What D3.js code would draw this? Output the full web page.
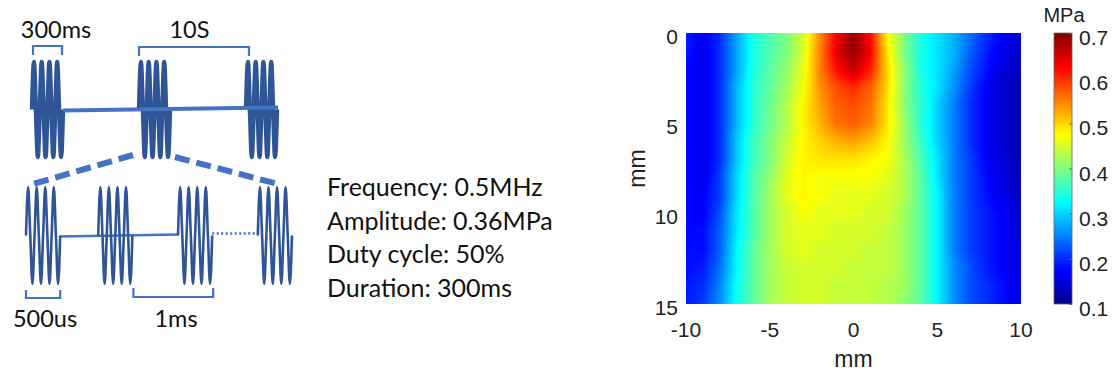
<!DOCTYPE html>
<html>
<head>
<meta charset="utf-8">
<script src="https://cdn.jsdelivr.net/npm/d3@7"></script>
<style>
  body { margin: 0; background: #fff; }
  svg { display: block; }
</style>
</head>
<body>
<div id="chart"></div>
<script>
// ---- stimulation scheme ----
const trainStarts = [0, 10, 20];           // s, a 300 ms burst every 10 s
const pulseStarts = [0, 0.95, 2.0, 3.05];  // ms, pulses within one burst (as sketched)
const burstShape = [0, 1, 0, -1, 0, 1, 0, -1, 0, 1, 0, -1, 0, 1, 0, -1, 0];
const paramLines = ['Frequency: 0.5MHz', 'Amplitude: 0.36MPa', 'Duty cycle: 50%', 'Duration: 300ms'];

// ---- pressure field (MPa), rows = depth 0..15 mm, cols = lateral -10..10 mm ----
const xGrid = [-10, -9, -8, -7, -6, -5, -4, -3, -2, -1, 0, 1, 2, 3, 4, 5, 6, 7, 8, 9, 10];
const yGrid = [0, 1, 2, 3, 4, 5, 6, 7, 8, 9, 10, 11, 12, 13, 14, 15];
const pressure = [
  [.19, .17, .20, .27, .34, .37, .40, .45, .54, .63, .69, .62, .48, .40, .34, .31, .28, .24, .20, .17, .15],
  [.19, .16, .20, .27, .34, .37, .40, .45, .55, .64, .69, .63, .49, .40, .34, .31, .28, .23, .19, .16, .14],
  [.18, .16, .20, .27, .34, .38, .41, .46, .55, .62, .66, .61, .50, .41, .34, .31, .27, .22, .18, .15, .13],
  [.18, .16, .20, .28, .35, .38, .42, .47, .54, .58, .60, .57, .50, .41, .35, .31, .26, .21, .17, .14, .12],
  [.18, .16, .20, .28, .35, .39, .43, .48, .53, .57, .58, .56, .49, .41, .35, .30, .25, .20, .17, .14, .12],
  [.18, .16, .20, .28, .35, .39, .43, .48, .52, .56, .57, .55, .49, .42, .35, .30, .25, .20, .17, .14, .12],
  [.18, .16, .20, .29, .36, .40, .44, .48, .50, .52, .53, .51, .48, .42, .36, .30, .25, .20, .17, .14, .12],
  [.18, .16, .20, .29, .36, .40, .45, .48, .49, .49, .49, .48, .47, .43, .37, .31, .25, .21, .17, .15, .12],
  [.18, .16, .21, .30, .37, .41, .46, .48, .47, .47, .47, .47, .46, .43, .38, .31, .25, .21, .18, .15, .13],
  [.18, .17, .21, .30, .37, .42, .46, .48, .47, .46, .46, .46, .45, .43, .38, .32, .25, .21, .18, .16, .13],
  [.18, .17, .22, .31, .37, .42, .45, .47, .46, .46, .46, .45, .45, .42, .38, .32, .25, .21, .19, .17, .14],
  [.18, .18, .23, .31, .37, .42, .45, .46, .46, .45, .45, .45, .44, .42, .38, .32, .25, .21, .19, .17, .14],
  [.18, .18, .23, .32, .38, .42, .45, .46, .45, .45, .45, .44, .44, .42, .38, .32, .25, .21, .19, .17, .15],
  [.18, .19, .24, .32, .38, .42, .44, .45, .45, .45, .44, .44, .44, .42, .38, .32, .26, .22, .19, .17, .15],
  [.19, .20, .25, .33, .38, .42, .44, .45, .45, .44, .44, .44, .43, .42, .38, .32, .26, .22, .20, .18, .15],
  [.19, .21, .26, .33, .38, .42, .44, .45, .45, .44, .44, .44, .43, .41, .38, .32, .26, .22, .20, .18, .16]
];
const xTicks = [-10, -5, 0, 5, 10];
const yTicks = [0, 5, 10, 15];
const cbTicks = [0.1, 0.2, 0.3, 0.4, 0.5, 0.6, 0.7];

const width = 1117;
const height = 377;
const dark = '#2f5597';
const light = '#4472c4';

const svg = d3.select('#chart').append('svg')
  .attr('width', width)
  .attr('height', height)
  .style('background', '#fff');

// ================= left: stimulation sketch =================
const wave = (xs, ys, x0, w) => d3.line()
  .x((d, i) => x0 + i / (burstShape.length - 1) * w)
  .y(d => ys(d))
  .curve(d3.curveMonotoneX)(burstShape);

const bracket = (g, x1, x2, yBar, yLeg) => g.append('path')
  .attr('d', `M${x1},${yLeg}V${yBar}H${x2}V${yLeg}`)
  .attr('fill', 'none')
  .attr('stroke', light)
  .attr('stroke-width', 2.2);

const sketch = svg.append('g');
const labelFont = { family: 'Lato, "Open Sans", sans-serif', size: 23.5 };

// top row: bursts
const xTop = d3.scaleLinear().domain([0, 20]).range([32, 246]);
const yTop = d3.scaleLinear().domain([-1, 1]).range([157, 62]);
const burstW = 31; // drawn width of a 300 ms burst (not to scale)

sketch.selectAll('.burst').data(trainStarts).enter().append('path')
  .attr('class', 'burst')
  .attr('d', d => wave(xTop, yTop, xTop(d), burstW))
  .attr('fill', 'none')
  .attr('stroke', dark)
  .attr('stroke-width', 4.4);

sketch.append('line')
  .attr('x1', xTop(trainStarts[0]) + burstW).attr('y1', yTop(0) + 1)
  .attr('x2', xTop(trainStarts[2]) + burstW + 1).attr('y2', yTop(0) - 2)
  .attr('stroke', light)
  .attr('stroke-width', 4);

bracket(sketch, xTop(0) + 1, xTop(0) + burstW - 1, 46, 55);
bracket(sketch, xTop(10), xTop(20) + 3, 47, 56);

sketch.append('text').attr('x', 56).attr('y', 38).attr('text-anchor', 'middle')
  .style('font-family', labelFont.family).style('font-size', labelFont.size + 'px').attr('fill', '#111')
  .text('300ms');
sketch.append('text').attr('x', (xTop(10) + xTop(20)) / 2 - 3).attr('y', 38).attr('text-anchor', 'middle')
  .style('font-family', labelFont.family).style('font-size', labelFont.size + 'px').attr('fill', '#111')
  .text('10S');

// bottom row: pulses
const xBot = d3.scaleLinear().domain([0, 3.5]).range([26, 292]);
const yBot = d3.scaleLinear().domain([-1, 1]).range([284, 187]);
const pulseW = xBot(0.45) - xBot(0);

// zoom-in dashes
sketch.append('line')
  .attr('x1', xTop(10) - 6).attr('y1', 155).attr('x2', xBot(0) + 7).attr('y2', 184)
  .attr('stroke', light).attr('stroke-width', 6).attr('stroke-dasharray', '15,7');
sketch.append('line')
  .attr('x1', xTop(10) + burstW + 5).attr('y1', 157).attr('x2', xBot(pulseStarts[3]) + 20).attr('y2', 184)
  .attr('stroke', light).attr('stroke-width', 6).attr('stroke-dasharray', '15,7');

sketch.append('line')
  .attr('x1', xBot(pulseStarts[0]) + pulseW).attr('y1', yBot(0) + 1)
  .attr('x2', xBot(pulseStarts[2])).attr('y2', yBot(0) - 1)
  .attr('stroke', light).attr('stroke-width', 2.5);
sketch.append('line')
  .attr('x1', xBot(pulseStarts[2]) + pulseW).attr('y1', yBot(0) - 2)
  .attr('x2', xBot(pulseStarts[3])).attr('y2', yBot(0) - 2)
  .attr('stroke', light).attr('stroke-width', 2.5).attr('stroke-dasharray', '2,2.5');

sketch.selectAll('.pulse').data(pulseStarts).enter().append('path')
  .attr('class', 'pulse')
  .attr('d', d => wave(xBot, yBot, xBot(d), pulseW))
  .attr('fill', 'none')
  .attr('stroke', dark)
  .attr('stroke-width', 2.6);

bracket(sketch, xBot(0), xBot(0.45), 298, 290);
bracket(sketch, xBot(pulseStarts[1]) + pulseW + 1, xBot(pulseStarts[2]) + pulseW + 1, 297, 288);

sketch.append('text').attr('x', 45).attr('y', 327).attr('text-anchor', 'middle')
  .style('font-family', labelFont.family).style('font-size', labelFont.size + 'px').attr('fill', '#111')
  .text('500us');
sketch.append('text').attr('x', 176).attr('y', 327).attr('text-anchor', 'middle')
  .style('font-family', labelFont.family).style('font-size', labelFont.size + 'px').attr('fill', '#111')
  .text('1ms');

// parameter text
svg.append('g').selectAll('text').data(paramLines).enter().append('text')
  .attr('x', 327)
  .attr('y', (d, i) => 196 + i * 33.7)
  .style('font-family', labelFont.family)
  .style('font-size', '25px')
  .attr('fill', '#111')
  .text(d => d);

// ================= right: pressure map =================
const x = d3.scaleLinear().domain([-10, 10]).range([686, 1021]);
const y = d3.scaleLinear().domain([0, 15]).range([33, 304]);

const jetStops = [0, 0.125, 0.375, 0.625, 0.875, 1];
const jetColors = ['#00008f', '#0000ff', '#00ffff', '#ffff00', '#ff0000', '#800000'];
const cmin = 0.1, cmax = 0.7;
const color = d3.scaleLinear()
  .domain(jetStops.map(t => cmin + t * (cmax - cmin)))
  .range(jetColors)
  .clamp(true);

function sample(gx, gy) {
  const i = Math.max(0, Math.min(xGrid.length - 2, d3.bisectRight(xGrid, gx) - 1));
  const j = Math.max(0, Math.min(yGrid.length - 2, d3.bisectRight(yGrid, gy) - 1));
  const tx = Math.max(0, Math.min(1, (gx - xGrid[i]) / (xGrid[i + 1] - xGrid[i])));
  const ty = Math.max(0, Math.min(1, (gy - yGrid[j]) / (yGrid[j + 1] - yGrid[j])));
  const top = pressure[j][i] * (1 - tx) + pressure[j][i + 1] * tx;
  const bot = pressure[j + 1][i] * (1 - tx) + pressure[j + 1][i + 1] * tx;
  return top * (1 - ty) + bot * ty;
}

const pw = Math.round(x(10) - x(-10));
const ph = Math.round(y(15) - y(0));
const canvas = document.createElement('canvas');
canvas.width = pw;
canvas.height = ph;
const ctx = canvas.getContext('2d');
const img = ctx.createImageData(pw, ph);
for (let py = 0; py < ph; py++) {
  const gy = y.invert(y(0) + py + 0.5);
  for (let px = 0; px < pw; px++) {
    const gx = x.invert(x(-10) + px + 0.5);
    const c = d3.rgb(color(sample(gx, gy)));
    const k = (py * pw + px) * 4;
    img.data[k] = c.r; img.data[k + 1] = c.g; img.data[k + 2] = c.b; img.data[k + 3] = 255;
  }
}
ctx.putImageData(img, 0, 0);

svg.append('image')
  .attr('x', x(-10)).attr('y', y(0))
  .attr('width', pw).attr('height', ph)
  .attr('preserveAspectRatio', 'none')
  .attr('href', canvas.toDataURL());

const axisFont = 'Arial, "Liberation Sans", Helvetica, sans-serif';
const tickColor = '#222';

svg.append('g').selectAll('text').data(xTicks).enter().append('text')
  .attr('x', d => x(d)).attr('y', 337)
  .attr('text-anchor', 'middle')
  .style('font-family', axisFont).style('font-size', '21px').attr('fill', tickColor)
  .text(d => d);

svg.append('g').selectAll('text').data(yTicks).enter().append('text')
  .attr('x', 678).attr('y', d => y(d)).attr('dy', '0.5em')
  .attr('text-anchor', 'end')
  .style('font-family', axisFont).style('font-size', '21px').attr('fill', tickColor)
  .text(d => d);

svg.append('text')
  .attr('x', (x(-10) + x(10)) / 2).attr('y', 367)
  .attr('text-anchor', 'middle')
  .style('font-family', axisFont).style('font-size', '23px').attr('fill', tickColor)
  .text('mm');

svg.append('text')
  .attr('transform', `translate(645,${(y(0) + y(15)) / 2}) rotate(-90)`)
  .attr('text-anchor', 'middle')
  .style('font-family', axisFont).style('font-size', '23px').attr('fill', tickColor)
  .text('mm');

// colorbar
const cb = { x: 1054, w: 18 };
const cy = d3.scaleLinear().domain([cmin, cmax]).range([y(15), y(0)]);

const grad = svg.append('defs').append('linearGradient')
  .attr('id', 'jet')
  .attr('x1', 0).attr('y1', 1).attr('x2', 0).attr('y2', 0);
grad.selectAll('stop').data(jetStops).enter().append('stop')
  .attr('offset', d => d)
  .attr('stop-color', (d, i) => jetColors[i]);

svg.append('rect')
  .attr('x', cb.x).attr('y', cy(cmax))
  .attr('width', cb.w).attr('height', cy(cmin) - cy(cmax))
  .attr('fill', 'url(#jet)')
  .attr('stroke', '#666').attr('stroke-width', 0.8);

const cbAxis = svg.append('g')
  .attr('transform', `translate(${cb.x + cb.w},0)`)
  .call(d3.axisRight(cy).tickValues(cbTicks).tickSize(-3).tickPadding(7).tickFormat(d3.format('.1f')));
cbAxis.select('.domain').remove();
cbAxis.selectAll('line').attr('stroke', '#666');
cbAxis.selectAll('text')
  .attr('dy', '0.55em')
  .attr('x', 7)
  .style('font-family', axisFont).style('font-size', '21px').attr('fill', tickColor);

svg.append('text')
  .attr('x', cb.x + cb.w / 2 + 1).attr('y', 22)
  .attr('text-anchor', 'middle')
  .style('font-family', axisFont).style('font-size', '20px').attr('fill', tickColor)
  .text('MPa');
</script>
</body>
</html>
